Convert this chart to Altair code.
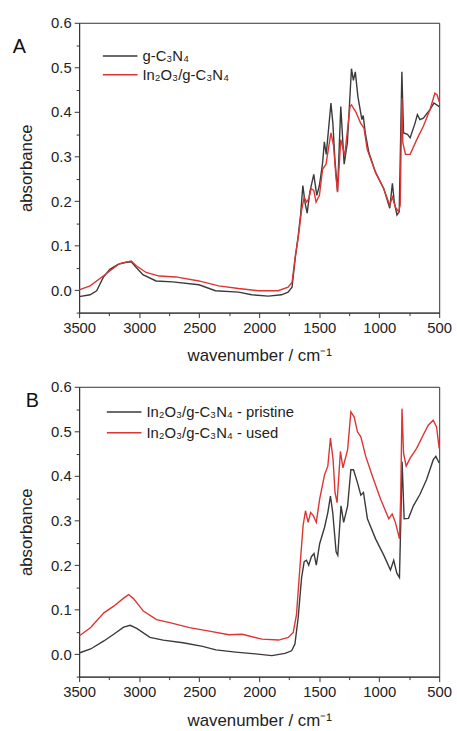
import altair as alt
import pandas as pd

# ---------------- Panel A ----------------
A_NAMES = ["g-C₃N₄", "In₂O₃/g-C₃N₄"]
a_black_wn = [3500, 3409, 3354, 3299, 3244, 3176, 3107, 3066, 3024, 2969, 2859, 2722, 2502, 2364,
              2172, 2062, 1924, 1814, 1759, 1726, 1699, 1677, 1655, 1636, 1617, 1600, 1578, 1545,
              1520, 1498, 1471, 1457, 1441, 1402, 1386, 1369, 1347, 1320, 1292, 1265, 1231, 1215,
              1199, 1177, 1144, 1133, 1116, 1086, 1031, 962, 912, 890, 874, 852, 833, 811, 797,
              764, 742, 701, 682, 660, 632, 577, 544, 500]
a_black_val = [-0.014, -0.010, -0.001, 0.029, 0.047, 0.058, 0.063, 0.064, 0.051, 0.035, 0.021, 0.019,
               0.0125, -0.001, -0.004, -0.010, -0.013, -0.010, -0.004, 0.007, 0.073, 0.117, 0.169,
               0.235, 0.195, 0.173, 0.220, 0.260, 0.213, 0.235, 0.287, 0.333, 0.305, 0.420, 0.375,
               0.294, 0.222, 0.412, 0.283, 0.331, 0.497, 0.471, 0.490, 0.434, 0.383, 0.392, 0.353,
               0.309, 0.265, 0.228, 0.184, 0.240, 0.198, 0.169, 0.176, 0.490, 0.353, 0.350, 0.342,
               0.375, 0.394, 0.383, 0.386, 0.405, 0.420, 0.412]
a_red_wn = [3500, 3409, 3299, 3217, 3162, 3066, 3024, 2942, 2832, 2694, 2502, 2337, 2172, 2007,
            1842, 1759, 1726, 1699, 1671, 1649, 1625, 1605, 1586, 1567, 1545, 1526, 1498, 1471,
            1443, 1402, 1380, 1361, 1347, 1320, 1287, 1243, 1231, 1196, 1155, 1127, 1100, 1031,
            962, 912, 890, 866, 838, 825, 811, 803, 781, 742, 687, 632, 577, 536, 517, 500]
a_red_val = [0.001, 0.010, 0.032, 0.049, 0.060, 0.066, 0.055, 0.040, 0.032, 0.030, 0.021, 0.010,
             0.004, -0.001, -0.001, 0.007, 0.018, 0.077, 0.125, 0.176, 0.209, 0.198, 0.206, 0.228,
             0.224, 0.198, 0.213, 0.272, 0.283, 0.353, 0.324, 0.257, 0.220, 0.338, 0.302, 0.412,
             0.416, 0.401, 0.375, 0.364, 0.316, 0.265, 0.228, 0.191, 0.209, 0.187, 0.176, 0.191,
             0.431, 0.331, 0.305, 0.305, 0.338, 0.368, 0.405, 0.442, 0.438, 0.423]

# ---------------- Panel B ----------------
B_NAMES = ["In₂O₃/g-C₃N₄ - pristine", "In₂O₃/g-C₃N₄ - used"]
b_black_wn = [3500, 3404, 3294, 3212, 3129, 3075, 3020, 2910, 2800, 2635, 2471, 2361, 2196, 2032,
              1894, 1785, 1730, 1702, 1675, 1647, 1625, 1606, 1587, 1565, 1543, 1524, 1496, 1455,
              1428, 1406, 1387, 1359, 1345, 1318, 1296, 1263, 1236, 1214, 1181, 1153, 1131, 1098,
              1030, 961, 906, 879, 853, 831, 817, 809, 792, 756, 715, 660, 605, 550, 528, 500]
b_black_val = [0.003, 0.012, 0.030, 0.045, 0.061, 0.065, 0.058, 0.038, 0.032, 0.026, 0.018, 0.010,
               0.005, 0.001, -0.003, 0.002, 0.008, 0.023, 0.082, 0.171, 0.208, 0.211, 0.200, 0.219,
               0.226, 0.200, 0.248, 0.285, 0.318, 0.355, 0.318, 0.230, 0.222, 0.333, 0.296, 0.333,
               0.414, 0.414, 0.385, 0.357, 0.363, 0.304, 0.259, 0.222, 0.189, 0.211, 0.182, 0.172,
               0.333, 0.432, 0.304, 0.305, 0.333, 0.359, 0.392, 0.436, 0.444, 0.429]
b_red_wn = [3500, 3404, 3294, 3212, 3129, 3088, 3047, 2965, 2855, 2745, 2581, 2416, 2251, 2141,
            1977, 1839, 1757, 1716, 1689, 1661, 1634, 1614, 1592, 1571, 1549, 1524, 1496, 1455,
            1428, 1406, 1384, 1368, 1351, 1323, 1302, 1263, 1236, 1208, 1181, 1153, 1112, 1057,
            988, 920, 892, 865, 831, 820, 810, 797, 775, 742, 688, 633, 591, 550, 522, 500]
b_red_val = [0.041, 0.060, 0.093, 0.108, 0.126, 0.134, 0.125, 0.097, 0.078, 0.071, 0.060, 0.052,
             0.044, 0.045, 0.034, 0.032, 0.038, 0.049, 0.089, 0.193, 0.289, 0.322, 0.296, 0.318,
             0.311, 0.296, 0.348, 0.403, 0.422, 0.485, 0.436, 0.363, 0.340, 0.455, 0.418, 0.459,
             0.544, 0.532, 0.499, 0.488, 0.444, 0.400, 0.348, 0.304, 0.315, 0.296, 0.259, 0.363,
             0.551, 0.451, 0.422, 0.440, 0.462, 0.492, 0.514, 0.525, 0.510, 0.462]

X_TICKS = list(range(3500, 499, -250))
Y_TICKS = [round(-0.05 + 0.05 * i, 2) for i in range(14)]

BLACK = "#3a3a3a"
RED = "#de3434"
FONT = "Liberation Sans"
W, H = 364, 293


def frame(names, wn1, v1, wn2, v2):
    return pd.concat([
        pd.DataFrame({"wn": wn1, "val": v1, "series": names[0], "k": 0}),
        pd.DataFrame({"wn": wn2, "val": v2, "series": names[1], "k": 1}),
    ], ignore_index=True)


MAJ_Y = "abs(datum.value*10 - round(datum.value*10)) < 0.001"


def x_axis(tpad):
    return alt.Axis(
        values=X_TICKS, format="d", title="wavenumber / cm⁻¹",
        labelExpr="datum.value % 500 === 0 ? datum.label : ''",
        tickSize={"condition": {"test": "datum.value % 500 === 0", "value": 5}, "value": 3},
        labelPadding=3, titlePadding=tpad, grid=False, labelFlush=False,
        labelFontSize=15, titleFontSize=17, titleFontWeight="normal",
    )


y_axis = alt.Axis(
    values=Y_TICKS, title="absorbance",
    labelExpr=MAJ_Y + " ? format(datum.value, '.1f') : ''",
    tickSize={"condition": {"test": MAJ_Y, "value": 5}, "value": 3},
    labelPadding=3, titlePadding=15, grid=False, labelFlush=False,
    labelFontSize=15, titleFontSize=17, titleFontWeight="normal",
)


def panel(names, df, letter, letter_x, letter_y, lx, ly, rowpad, tpad):
    lines = alt.Chart(df).mark_line(strokeWidth=1.4).encode(
        x=alt.X("wn:Q", scale=alt.Scale(domain=[3500, 500], nice=False, zero=False), axis=x_axis(tpad)),
        y=alt.Y("val:Q", scale=alt.Scale(domain=[-0.05, 0.6], nice=False, zero=False), axis=y_axis),
        color=alt.Color("series:N", sort=names,
                        scale=alt.Scale(domain=names, range=[BLACK, RED]),
                        legend=alt.Legend(orient="none", legendX=lx, legendY=ly, title=None,
                                          symbolType="stroke", symbolSize=1225, symbolStrokeWidth=1.5,
                                          labelFontSize=15, labelFont=FONT, labelColor="#222",
                                          labelOffset=4, rowPadding=rowpad, padding=0,
                                          clipHeight=15)),
        order=alt.Order("k:Q"),
    )
    lab = alt.Chart(pd.DataFrame({"t": [letter]})).mark_text(
        align="left", baseline="middle", fontSize=20, font=FONT, color="#111"
    ).encode(text="t:N", x=alt.value(letter_x), y=alt.value(letter_y))
    return alt.layer(lines, lab).properties(width=W, height=H)


pa = panel(A_NAMES, frame(A_NAMES, a_black_wn, a_black_val, a_red_wn, a_red_val),
           "A", -67, 25, 23, 26, 3, 12)
pb = panel(B_NAMES, frame(B_NAMES, b_black_wn, b_black_val, b_red_wn, b_red_val),
           "B", -54, 14, 27, 18, 5, 13)

chart = alt.vconcat(pa, pb, spacing=75, bounds="flush").resolve_scale(color="independent").properties(
    padding={"left": 12, "top": 11, "right": 4, "bottom": 4}, background="white"
).configure_view(stroke="#333", strokeWidth=1).configure_axis(
    domainColor="#333", tickColor="#333", labelColor="#222", titleColor="#222",
    labelFont=FONT, titleFont=FONT, labelFontSize=15, titleFontSize=17, titleFontWeight="normal",
    domainWidth=1, tickWidth=1
)

chart.save("out.html", embed_options={"renderer": "svg", "actions": False})
